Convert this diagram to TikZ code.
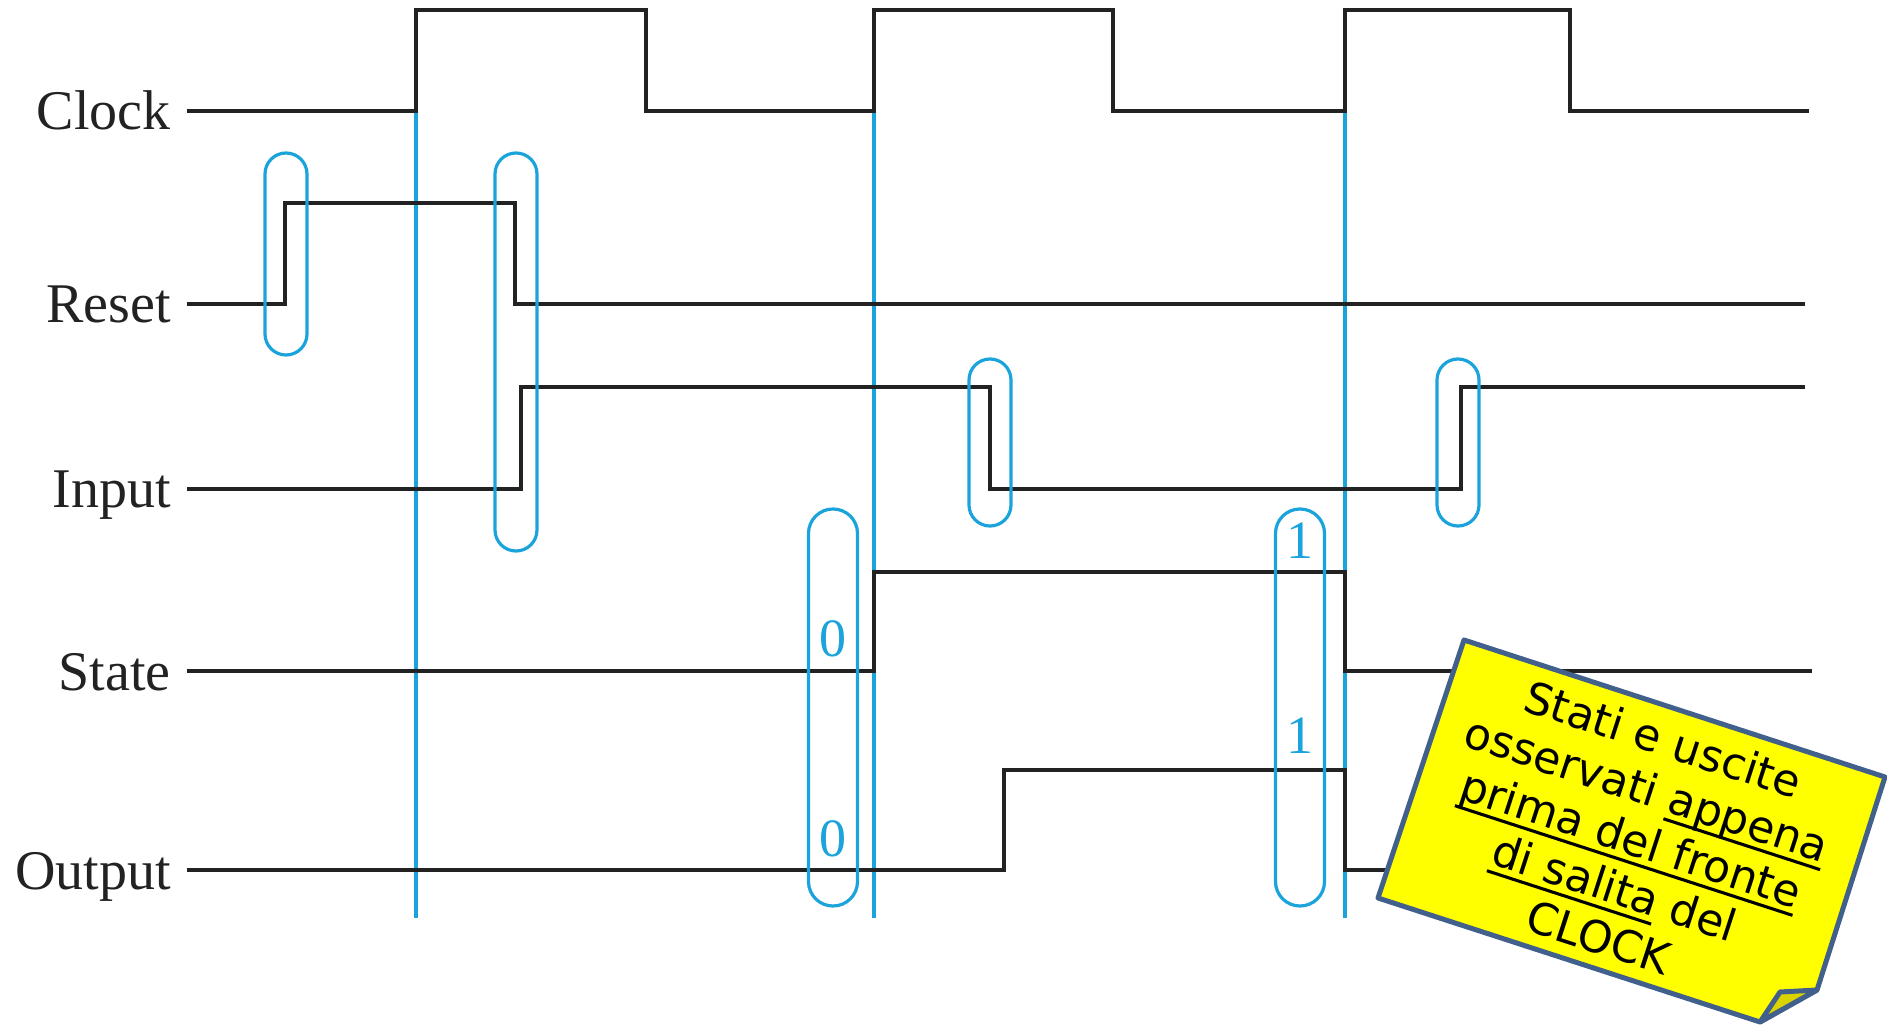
\documentclass[tikz,border=0pt]{standalone}
\usepackage{fontspec}
\setmainfont{Liberation Serif}
\newfontfamily\notefont{DejaVu Sans}
\usepackage{tikz}
\usetikzlibrary{positioning}
\definecolor{WaveDark}{HTML}{222222}
\definecolor{EdgeBlue}{HTML}{1BA3DB}
\definecolor{NoteYellow}{HTML}{FFFF00}
\definecolor{NoteFold}{HTML}{D9D400}
\definecolor{NoteBorder}{HTML}{41618C}
\newcommand{\ulnote}[1]{\setbox0=\hbox{#1}\rlap{\rule[-0.2em]{\wd0}{0.07em}}\box0\relax}

\begin{document}
\begin{tikzpicture}[x=0.5pt,y=-0.5pt,
    wave/.style={draw=WaveDark, line width=1.7pt},
    edgeline/.style={draw=EdgeBlue, line width=1.6pt},
    pill/.style={draw=EdgeBlue, line width=1.6pt},
    siglabel/.style={anchor=base east, text=WaveDark, font=\fontsize{28}{32}\selectfont, inner sep=0pt},
    bitlabel/.style={text=EdgeBlue, font=\fontsize{27}{30}\selectfont, inner sep=0pt}]
  \useasboundingbox (0,0) rectangle (1887,1027);

  \foreach \y/\name/\txt in {111/clk/Clock, 304/rst/Reset, 489/inp/Input, 671/st/State, 870/out/Output}{
    \node[siglabel] (\name) at (171,\y+19) {\txt};
  }

  % rising clock edges
  \foreach \x in {416,874,1345}
    \draw[edgeline] (\x,111) -- (\x,918);

  % waveforms
  \draw[wave] (187,111) -| (416,10) -| (646,111) -| (874,10) -| (1113,111) -| (1345,10) -| (1570,111) -- (1809,111);
  \draw[wave] (187,304) -| (285,203) -| (515,304) -- (1805,304);
  \draw[wave] (187,489) -| (521,387) -| (990,489) -| (1461,387) -- (1805,387);
  \draw[wave] (187,671) -| (874,572) -| (1345,671) -- (1812,671);
  \draw[wave] (187,870) -| (1004,770) -| (1345,870) -- (1500,870);

  \foreach \cx/\top/\bot in {286/153/355, 516/153/551, 990/359/526, 1458/359/526}
    \draw[pill, rounded corners=10.5pt] (\cx-21,\top) rectangle (\cx+21,\bot);
  \foreach \cx in {833,1300}
    \draw[pill, rounded corners=12.2pt] (\cx-24.5,509) rectangle (\cx+24.5,906);

  \node[bitlabel] (st0)  at (833,639) {0};
  \node[bitlabel] (out0) at (833,839) {0};
  \node[bitlabel] (st1)  at (1300,541) {1};
  \node[bitlabel] (out1) at (1300,736) {1};

  % sticky note
  \draw[NoteBorder, line width=2.5pt, fill=NoteYellow, line join=round]
    (1464,640) -- (1885,777) -- (1817,990) -- (1760,1022) -- (1378,898) -- cycle;
  \draw[NoteBorder, line width=2.5pt, fill=NoteFold, line join=round]
    (1780,992) -- (1817,990) -- (1760,1022) -- cycle;
  \node[rotate=-18, align=center, font=\notefont\fontsize{22}{26}\selectfont] (note) at (1631,838)
    {Stati e uscite\\ osservati \ulnote{appena}\\ \ulnote{prima del fronte}\\ \ulnote{di salita} del\\ CLOCK};
\end{tikzpicture}
\end{document}
